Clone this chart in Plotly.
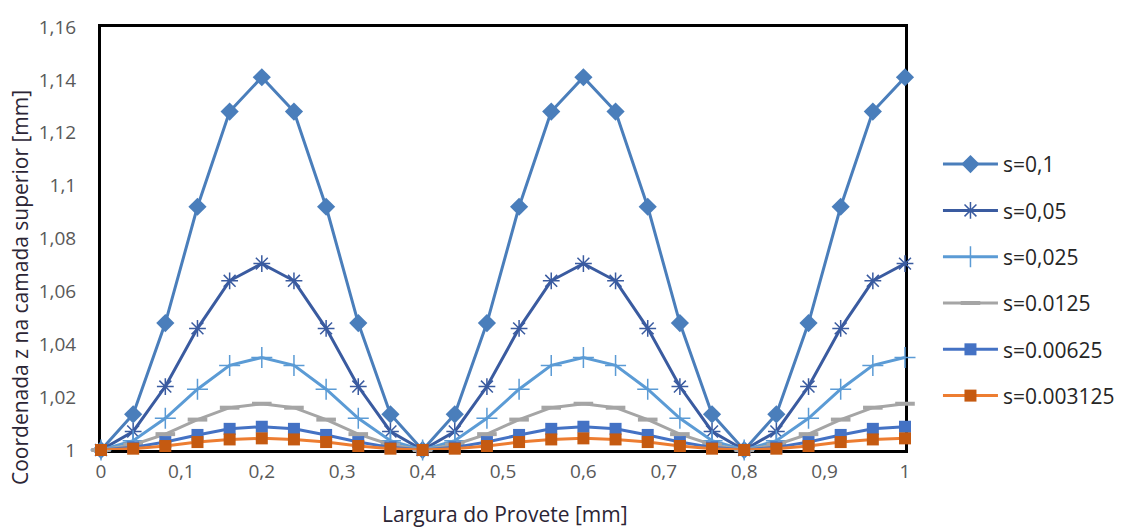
import plotly.graph_objects as go

# Width positions across the specimen [mm]
x_mm = [0, 0.04, 0.08, 0.12, 0.16, 0.2, 0.24, 0.28, 0.32, 0.36,
        0.4, 0.44, 0.48, 0.52, 0.56, 0.6, 0.64, 0.68, 0.72, 0.76,
        0.8, 0.84, 0.88, 0.92, 0.96, 1.0]

# z coordinate of the top layer for each amplitude s [mm]
z_s0100 = [1, 1.0135, 1.048, 1.092, 1.128, 1.141, 1.128, 1.092, 1.048, 1.0135,
           1, 1.0135, 1.048, 1.092, 1.128, 1.141, 1.128, 1.092, 1.048, 1.0135,
           1, 1.0135, 1.048, 1.092, 1.128, 1.141]
z_s0050 = [1, 1.007, 1.024, 1.046, 1.064, 1.0705, 1.064, 1.046, 1.024, 1.007,
           1, 1.007, 1.024, 1.046, 1.064, 1.0705, 1.064, 1.046, 1.024, 1.007,
           1, 1.007, 1.024, 1.046, 1.064, 1.0705]
z_s0025 = [1, 1.0035, 1.012, 1.023, 1.032, 1.035, 1.032, 1.023, 1.012, 1.0035,
           1, 1.0035, 1.012, 1.023, 1.032, 1.035, 1.032, 1.023, 1.012, 1.0035,
           1, 1.0035, 1.012, 1.023, 1.032, 1.035]
z_s0125 = [1, 1.002, 1.006, 1.0115, 1.016, 1.0175, 1.016, 1.0115, 1.006, 1.002,
           1, 1.002, 1.006, 1.0115, 1.016, 1.0175, 1.016, 1.0115, 1.006, 1.002,
           1, 1.002, 1.006, 1.0115, 1.016, 1.0175]
z_s00625 = [1, 1.001, 1.003, 1.0057, 1.008, 1.0088, 1.008, 1.0057, 1.003, 1.001,
            1, 1.001, 1.003, 1.0057, 1.008, 1.0088, 1.008, 1.0057, 1.003, 1.001,
            1, 1.001, 1.003, 1.0057, 1.008, 1.0088]
z_s003125 = [1, 1.0005, 1.0015, 1.003, 1.004, 1.0044, 1.004, 1.003, 1.0015, 1.0005,
             1, 1.0005, 1.0015, 1.003, 1.004, 1.0044, 1.004, 1.003, 1.0015, 1.0005,
             1, 1.0005, 1.0015, 1.003, 1.004, 1.0044]

series_names = ["s=0,1", "s=0,05", "s=0,025", "s=0.0125", "s=0.00625", "s=0.003125"]
series_values = [z_s0100, z_s0050, z_s0025, z_s0125, z_s00625, z_s003125]

styles = [
    dict(line="#4A7EBB", marker=dict(symbol="diamond", size=14, color="#4A7EBB")),
    dict(line="#3A5BA0", marker=dict(symbol="asterisk-open", size=14,
                                     line=dict(color="#3A5BA0", width=1.5))),
    dict(line="#5B9BD5", marker=dict(symbol="cross-thin-open", size=15,
                                     line=dict(color="#5B9BD5", width=1.5))),
    dict(line="#A5A5A5", marker=dict(symbol="line-ew-open", size=14,
                                     line=dict(color="#A5A5A5", width=4))),
    dict(line="#4472C4", marker=dict(symbol="square", size=12, color="#4472C4")),
    dict(line="#ED7D31", marker=dict(symbol="square", size=12, color="#C55A11")),
]

fig = go.Figure()
for i, (name, vals, st) in enumerate(zip(series_names, series_values, styles)):
    fig.add_trace(go.Scatter(
        x=x_mm, y=vals, name=name, mode="lines+markers",
        line=dict(color=st["line"], width=3),
        marker=st["marker"], cliponaxis=False,
        legendgroup=f"g{i}",
    ))

FONT = "Open Sans, Noto Sans, sans-serif"
axis_font = dict(family=FONT, size=19, color="#595959")
title_font = dict(family=FONT, size=21, color="#2B2535")

fig.update_layout(
    width=1121, height=530,
    margin=dict(l=101, r=216, t=27, b=80, autoexpand=False),
    paper_bgcolor="white", plot_bgcolor="white",
    separators=", ",
    showlegend=True,
    legend=dict(x=1.041, y=0.402, xanchor="left", yanchor="middle",
                font=dict(family=FONT, size=21, color="#262626"),
                tracegroupgap=16, itemwidth=55, bgcolor="rgba(0,0,0,0)"),
    xaxis=dict(range=[0, 1], dtick=0.1, tick0=0, showgrid=False, zeroline=False,
               showline=True, mirror=True, linecolor="black", linewidth=3,
               ticks="", tickfont=axis_font, ticklabelstandoff=2,
               layer="below traces", automargin=False),
    yaxis=dict(range=[1, 1.16], dtick=0.02, tick0=1, showgrid=False, zeroline=False,
               showline=True, mirror=True, linecolor="black", linewidth=3,
               ticks="", tickfont=axis_font, ticklabelstandoff=18,
               layer="below traces", automargin=False),
    annotations=[
        dict(text="Largura do Provete [mm]", xref="paper", yref="paper",
             x=(505 - 101) / 804, y=-(514 - 450) / 423, xanchor="center", yanchor="middle",
             showarrow=False, font=title_font),
        dict(text="Coordenada z na camada superior [mm]", xref="paper", yref="paper",
             x=-(101 - 20) / 804, y=(450 - 288) / 423, xanchor="center", yanchor="middle",
             textangle=-90, showarrow=False, font=title_font),
    ],
)

fig.write_html("out.html")
